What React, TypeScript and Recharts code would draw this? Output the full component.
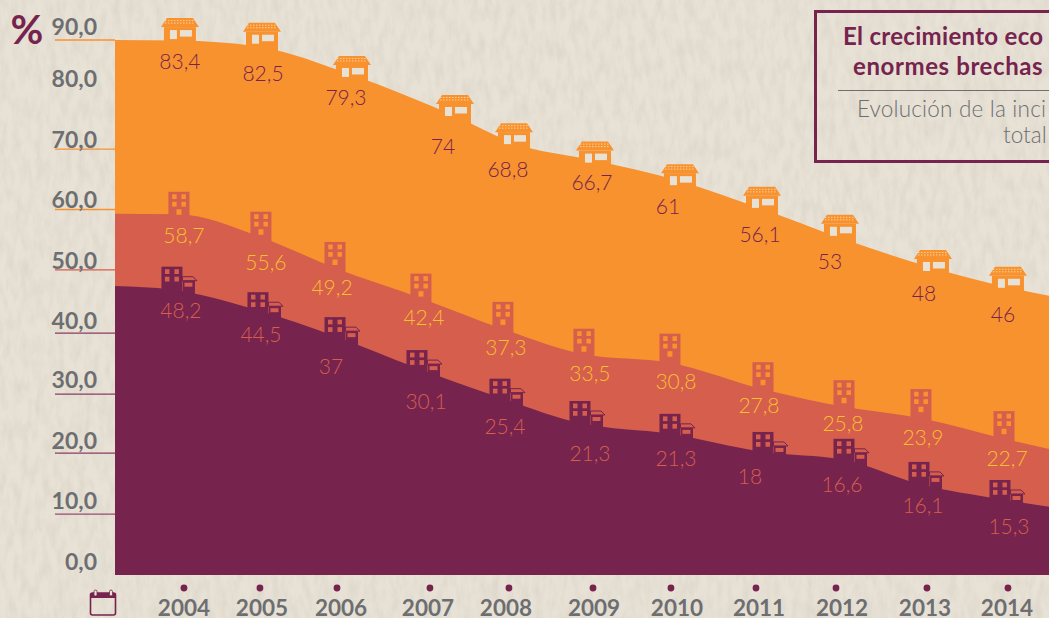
import React from "react";
import { AreaChart, Area, XAxis, YAxis } from "recharts";

// ---------- Data ----------
const years = ["2004", "2005", "2006", "2007", "2008", "2009", "2010", "2011", "2012", "2013", "2014"];
const yearTicks = [2004, 2004.922, 2005.857, 2006.985, 2007.944, 2008.964, 2009.91, 2010.942, 2011.913, 2013.017, 2014];

const axisLabels = ["0,0", "10,0", "20,0", "30,0", "40,0", "50,0", "60,0", "70,0", "80,0", "90,0"];
const axisLevels = [0, 10.1, 20.2, 30, 40.1, 50.6, 60.6, 70.6, 80.8, 88.7];

// printed values
const topLabels = [83.4, 82.5, 79.3, 74, 68.8, 66.7, 61, 56.1, 53, 48, 46];
const midLabels = [58.7, 55.6, 49.2, 42.4, 37.3, 33.5, 30.8, 27.8, 25.8, 23.9, 22.7];
const lowLabels = [48.2, 44.5, 37, 30.1, 25.4, 21.3, 21.3, 18, 16.6, 16.1, 15.3];

// height of each drawn band against the axis (first and last entries: the band's left and right ends)
const topLevels = [88.7, 88.6, 87.5, 82.9, 76.1, 71.6, 68.7, 65.3, 60.7, 55.9, 50.9, 47.7, 46.3];
const midLevels = [59.9, 59.8, 56.0, 50.9, 45.9, 40.8, 36.6, 35.2, 30.8, 27.9, 26.0, 22.6, 20.9];
const lowLevels = [47.9, 47.3, 43.9, 39.6, 34.3, 29.4, 25.2, 23.4, 20.4, 19.1, 15.1, 12.6, 11.3];

const topTimes = [2003.163, 2003.951, 2004.947, 2006.039, 2007.289, 2008.005, 2008.988, 2010.019, 2011.015, 2011.961, 2013.09, 2014, 2014.498];
const midTimes = [2003.163, 2003.939, 2004.934, 2005.833, 2006.876, 2007.871, 2008.854, 2009.898, 2011.027, 2012.01, 2012.944, 2013.952, 2014.498];
const lowTimes = [2003.163, 2003.854, 2004.898, 2005.833, 2006.828, 2007.835, 2008.806, 2009.898, 2011.027, 2012.01, 2012.92, 2013.903, 2014.498];

// ---------- Layout nudges ----------
const topLift = [22.5, 24.5, 19, 21, 20, 19, 17, 22, 23, 18, 20.5];
const midLift = [22.5, 25.5, 26, 24.5, 27, 25.5, 29, 27, 26.5, 29, 27.5];
const lowLift = [23, 18, 19, 18, 19, 22, 20, 20, 21, 22, 19];
const topNudge = [[0, 20], [1, 25], [-6, 22], [-12, 30], [-6, 25], [-3, 21], [-12, 24], [-2, 25], [-10, 23], [-9, 25], [-5, 26]];
const midNudge = [[5, 20], [5, 24], [-3, 19], [3, 18], [3, 18], [6, 18], [6, 18], [-4, 15], [-1, 16], [2, 18], [3, 19]];
const lowNudge = [[9, 20], [3, 23], [-4, 29], [9, 32], [5, 28], [10, 29], [6, 24], [-13, 24], [-2, 24], [4, 21], [9, 26]];
const yearNudge = [0, 2, 4, -2, -3, 1, 6, 3, 6, -2, -1];
const axisLineColors = [null, "#9A4A72", "#8A3A64", "#8A3A64", "#8A3A64", "#D65D4C", "#F79232", "#F79232", null, "#F79232"];
const axisLabelRise = [14, 14, 13, 15, 13, 10, 10, 10, 10, 14];

const ORANGE = "#F8922F";
const CORAL = "#D55E4C";
const DARK = "#76234E";
const YELLOW = "#F9BF30";
const GREY = "#6D6E71";
const PAPER = "#E8E2D6";
const FONT = "Lato, 'Open Sans', sans-serif";

const rows = (times: number[], levels: number[], labels: number[]) =>
  times.map((pos, i) => ({ pos, value: levels[i], label: i > 0 && i <= labels.length ? labels[i - 1] : null }));

const topData = rows(topTimes, topLevels, topLabels);
const midData = rows(midTimes, midLevels, midLabels);
const lowData = rows(lowTimes, lowLevels, lowLabels);

const fmt = (v: number) => String(v).replace(".", ",");

const ValueText = ({ x, y, value, color }: any) => (
  <text x={x} y={y} textAnchor="middle" dominantBaseline="central" fontFamily={FONT} fontSize={21} fontWeight={300} fill={color}>
    {fmt(value)}
  </text>
);

const TopDot = (p: any) => {
  const { cx, cy, index, payload } = p;
  if (payload.label == null) return <g key={`t${index}`} />;
  const i = index - 1;
  const t = cy - topLift[i];
  const [dx, dy] = topNudge[i];
  return (
    <g key={`t${index}`}>
      <polygon points={`${cx - 19},${t + 9} ${cx - 13},${t} ${cx + 13},${t} ${cx + 19},${t + 9}`} fill={ORANGE} />
      {[2.5, 5].map((d) => (
        <line key={d} x1={cx - 15} x2={cx + 15} y1={t + d} y2={t + d} stroke="#FBD29E" strokeWidth={1} strokeDasharray="1.5 1.5" />
      ))}
      <rect x={cx - 16} y={t + 9} width={32} height={cy - t} fill={ORANGE} />
      <rect x={cx - 10} y={t + 12} width={7} height={9} fill={PAPER} />
      <rect x={cx} y={t + 12} width={12} height={6.5} fill={PAPER} />
      <ValueText x={cx + dx} y={cy + dy} value={payload.label} color={DARK} />
    </g>
  );
};

const MidDot = (p: any) => {
  const { cx, cy, index, payload } = p;
  if (payload.label == null) return <g key={`m${index}`} />;
  const i = index - 1;
  const t = cy - midLift[i];
  const [dx, dy] = midNudge[i];
  return (
    <g key={`m${index}`}>
      <rect x={cx - 10.5} y={t} width={21} height={cy - t + 6} fill={CORAL} />
      {[-6.8, 2.5].map((wx) =>
        [2.5, 10].map((wy) => <rect key={`${wx}${wy}`} x={cx + wx} y={t + wy} width={4.5} height={4.8} fill={ORANGE} />)
      )}
      <rect x={cx - 2.5} y={t + 17.5} width={5} height={5.5} fill={ORANGE} />
      <ValueText x={cx + dx} y={cy + dy} value={payload.label} color={YELLOW} />
    </g>
  );
};

const LowDot = (p: any) => {
  const { cx, cy, index, payload } = p;
  if (payload.label == null) return <g key={`l${index}`} />;
  const i = index - 1;
  const t = cy - lowLift[i];
  const [dx, dy] = lowNudge[i];
  return (
    <g key={`l${index}`}>
      <rect x={cx - 10.5} y={t} width={21} height={cy - t + 6} fill={DARK} />
      {[-7, 2.5].map((wx) =>
        [2.5, 10].map((wy) => <rect key={`${wx}${wy}`} x={cx + wx} y={t + wy} width={4.5} height={4.8} fill={CORAL} />)
      )}
      <polygon points={`${cx + 10.5},${t + 10} ${cx + 21},${t + 10} ${cx + 25},${t + 14} ${cx + 10.5},${t + 14}`} fill={CORAL} stroke={DARK} strokeWidth={1} />
      <rect x={cx + 11} y={t + 14} width={12} height={14} fill={DARK} />
      <rect x={cx + 12.5} y={t + 16} width={8} height={4} fill={CORAL} />
      <ValueText x={cx + dx} y={cy + dy} value={payload.label} color={CORAL} />
    </g>
  );
};

const YTick = (p: any) => {
  const { y, index } = p;
  const color = axisLineColors[index];
  return (
    <g>
      {color && <line x1={55} x2={115} y1={y} y2={y} stroke={color} strokeWidth={1.3} />}
      <text x={97} y={y - axisLabelRise[index]} textAnchor="end" dominantBaseline="central" fontFamily={FONT} fontSize={23} fontWeight={700} fill={GREY}>
        {axisLabels[index]}
      </text>
    </g>
  );
};

const XTick = (p: any) => {
  const { x, index } = p;
  return (
    <g>
      <circle cx={x} cy={588} r={3.4} fill={DARK} />
      <text x={x + yearNudge[index]} y={616} textAnchor="middle" fontFamily={FONT} fontSize={22.5} fontWeight={700} fill={GREY}>
        {years[index]}
      </text>
    </g>
  );
};

export default function App() {
  return (
    <div style={{ position: "absolute", left: 0, top: 0, width: 1049, height: 618, overflow: "hidden", background: PAPER }}>
      <svg width={1049} height={618} style={{ position: "absolute", left: 0, top: 0 }}>
        <filter id="paper" x="0" y="0" width="100%" height="100%">
          <feTurbulence type="fractalNoise" baseFrequency="0.14 0.05" numOctaves={4} seed={7} />
          <feColorMatrix type="matrix" values="0 0 0 0 0.55  0 0 0 0 0.5  0 0 0 0 0.42  0.55 0 0 0 -0.2" />
        </filter>
        <rect width={1049} height={618} filter="url(#paper)" />
      </svg>

      <div style={{ position: "absolute", left: 0, top: 0 }}>
        <AreaChart width={1049} height={618} margin={{ top: 5, right: 0, bottom: 0, left: 0 }}>
          <XAxis
            type="number"
            dataKey="pos"
            domain={[2003.163, 2014.498]}
            ticks={yearTicks}
            interval={0}
            height={43}
            axisLine={false}
            tickLine={false}
            tick={<XTick />}
          />
          <YAxis
            type="number"
            domain={[0, 94.5]}
            ticks={axisLevels}
            interval={0}
            width={115}
            axisLine={false}
            tickLine={false}
            tick={<YTick />}
          />
          <Area data={topData} dataKey="value" type="monotone" fill={ORANGE} fillOpacity={1} stroke="none" dot={TopDot} activeDot={false} isAnimationActive={false} />
          <Area data={midData} dataKey="value" type="monotone" fill={CORAL} fillOpacity={1} stroke="none" dot={MidDot} activeDot={false} isAnimationActive={false} />
          <Area data={lowData} dataKey="value" type="monotone" fill={DARK} fillOpacity={1} stroke="none" dot={LowDot} activeDot={false} isAnimationActive={false} />
        </AreaChart>
      </div>

      <svg width={1049} height={618} style={{ position: "absolute", left: 0, top: 0, pointerEvents: "none" }}>
        <text x={27} y={44} textAnchor="middle" fontFamily={FONT} fontSize={40} fontWeight={700} fill={DARK}>%</text>

        <rect x={90.5} y={593} width={25} height={22} rx={2} fill="none" stroke={DARK} strokeWidth={1.6} />
        <rect x={90.5} y={593} width={25} height={5} fill={DARK} />
        <rect x={94} y={590} width={3} height={6} rx={1.5} fill={PAPER} stroke={DARK} strokeWidth={0.8} />
        <rect x={109.5} y={590} width={3} height={6} rx={1.5} fill={PAPER} stroke={DARK} strokeWidth={0.8} />

        <rect x={815.5} y={11.5} width={300} height={150} fill="none" stroke={DARK} strokeWidth={3} />
        <text x={843} y={45} fontFamily={FONT} fontSize={24} fontWeight={700} letterSpacing={0.3} fill={DARK}>El crecimiento eco</text>
        <text x={853} y={75} fontFamily={FONT} fontSize={24} fontWeight={700} letterSpacing={0.6} fill={DARK}>enormes brechas</text>
        <line x1={838} x2={1049} y1={90.5} y2={90.5} stroke={GREY} strokeWidth={1} />
        <text x={857} y={117} fontFamily={FONT} fontSize={22.5} fontWeight={300} letterSpacing={0.2} fill={GREY}>Evolución de la inci</text>
        <text x={1003} y={143} fontFamily={FONT} fontSize={22.5} fontWeight={300} fill={GREY}>total</text>
      </svg>
    </div>
  );
}
